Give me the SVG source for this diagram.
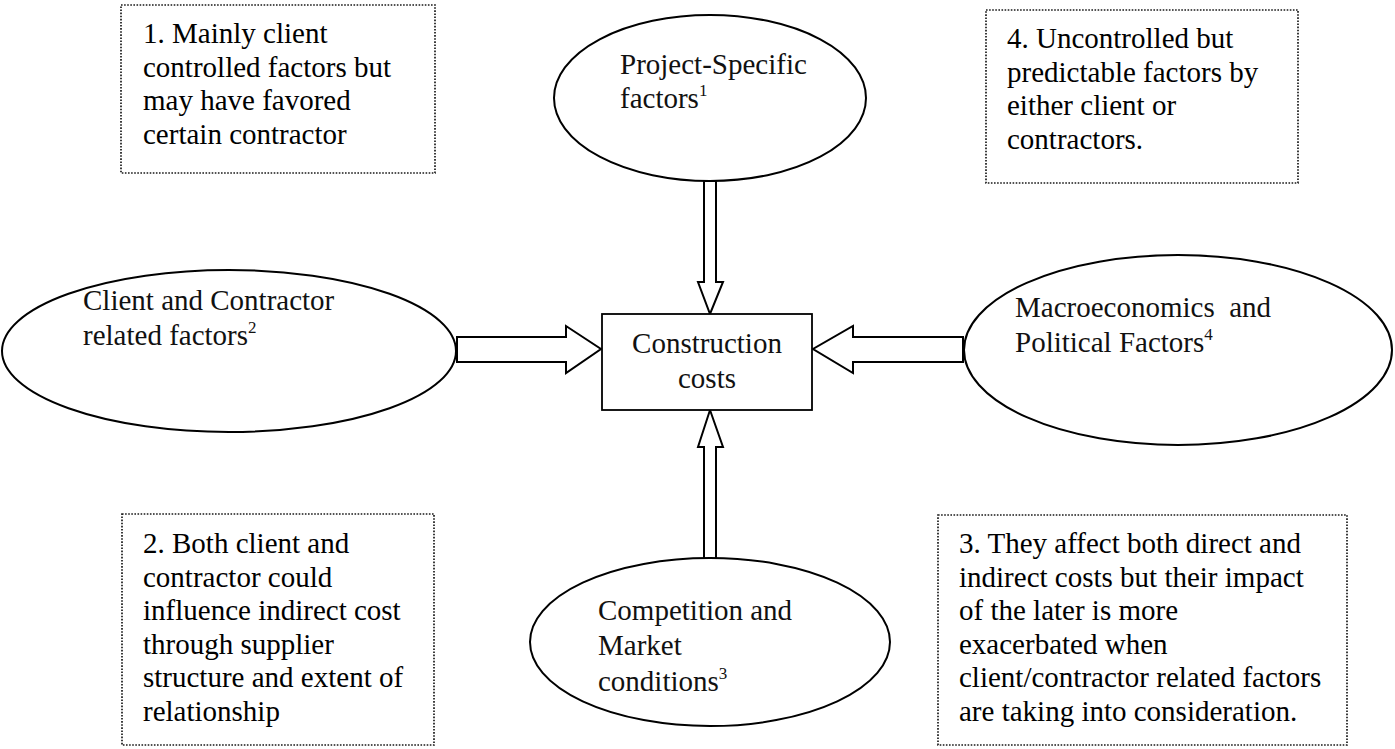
<svg xmlns="http://www.w3.org/2000/svg" width="1395" height="749" viewBox="0 0 1395 749">
  <style>
    .note { fill: #ffffff; stroke: #1a1a1a; stroke-width: 1.7; stroke-dasharray: 1.6 1.5; }
    .oval { fill: #ffffff; stroke: #000; stroke-width: 2; }
    .core { fill: #ffffff; stroke: #000; stroke-width: 1.8; }
    .arrow { fill: #ffffff; stroke: #000; stroke-width: 2; stroke-linejoin: miter; }
    .t { font-family: "Liberation Serif", "Times New Roman", serif; font-size: 29px; fill: #000; }
    .g { font-family: "Liberation Serif", "Times New Roman", serif; font-size: 29px; fill: #111; }
    .sup { font-size: 17px; }
  </style>
  <rect width="1395" height="749" fill="#ffffff"/>

  <!-- explanatory notes -->
  <g id="note1">
    <rect class="note" x="121" y="5" width="314" height="168"/>
    <text class="t" x="143" y="43">1. Mainly client</text>
    <text class="t" x="143" y="76.5">controlled factors but</text>
    <text class="t" x="143" y="110">may have favored</text>
    <text class="t" x="143" y="143.5">certain contractor</text>
  </g>
  <g id="note4">
    <rect class="note" x="986" y="10" width="312" height="173"/>
    <text class="t" x="1007" y="48">4. Uncontrolled but</text>
    <text class="t" x="1007" y="81.5">predictable factors by</text>
    <text class="t" x="1007" y="115">either client or</text>
    <text class="t" x="1007" y="148.5">contractors.</text>
  </g>
  <g id="note2">
    <rect class="note" x="122" y="514" width="312" height="231"/>
    <text class="t" x="143" y="553">2. Both client and</text>
    <text class="t" x="143" y="586.5">contractor could</text>
    <text class="t" x="143" y="620">influence indirect cost</text>
    <text class="t" x="143" y="653.5">through supplier</text>
    <text class="t" x="143" y="687">structure and extent of</text>
    <text class="t" x="143" y="720.5">relationship</text>
  </g>
  <g id="note3">
    <rect class="note" x="938" y="515" width="409" height="230"/>
    <text class="t" x="959" y="553">3. They affect both direct and</text>
    <text class="t" x="959" y="586.5">indirect costs but their impact</text>
    <text class="t" x="959" y="620">of the later is more</text>
    <text class="t" x="959" y="653.5">exacerbated when</text>
    <text class="t" x="959" y="687">client/contractor related factors</text>
    <text class="t" x="959" y="720.5">are taking into consideration.</text>
  </g>

  <!-- block arrows feeding the centre -->
  <g id="connectors">
    <polygon class="arrow" points="704,181 704,282 698,282 710,314 723,282 716,282 716,181"/>
    <polygon class="arrow" points="704,559 704,447 698,447 710,410 723,447 716,447 716,559"/>
    <polygon class="arrow" points="457,337 566,337 566,326 601,349 566,373 566,362 457,362"/>
    <polygon class="arrow" points="963,337 853,337 853,326 813,349 853,373 853,362 963,362"/>
  </g>

  <!-- factor groups -->
  <g id="project">
    <ellipse class="oval" cx="710" cy="98" rx="156" ry="83"/>
    <text class="g" x="620" y="74">Project-Specific</text>
    <text class="g" x="620" y="108">factors<tspan class="sup" dy="-12">1</tspan></text>
  </g>
  <g id="clientContractor">
    <ellipse class="oval" cx="229" cy="351" rx="227" ry="81"/>
    <text class="g" x="83" y="310">Client and Contractor</text>
    <text class="g" x="83" y="345">related factors<tspan class="sup" dy="-12">2</tspan></text>
  </g>
  <g id="macro">
    <ellipse class="oval" cx="1178" cy="350" rx="214" ry="95"/>
    <text class="g" x="1015" y="317" xml:space="preserve">Macroeconomics  and</text>
    <text class="g" x="1015" y="352">Political Factors<tspan class="sup" dy="-12">4</tspan></text>
  </g>
  <g id="market">
    <ellipse class="oval" cx="710" cy="642" rx="180" ry="84"/>
    <text class="g" x="598" y="620">Competition and</text>
    <text class="g" x="598" y="655">Market</text>
    <text class="g" x="598" y="691">conditions<tspan class="sup" dy="-12">3</tspan></text>
  </g>

  <!-- central outcome -->
  <g id="costs">
    <rect class="core" x="602" y="314" width="210" height="96"/>
    <text class="g" x="707" y="353" text-anchor="middle">Construction</text>
    <text class="g" x="707" y="388" text-anchor="middle">costs</text>
  </g>
</svg>
